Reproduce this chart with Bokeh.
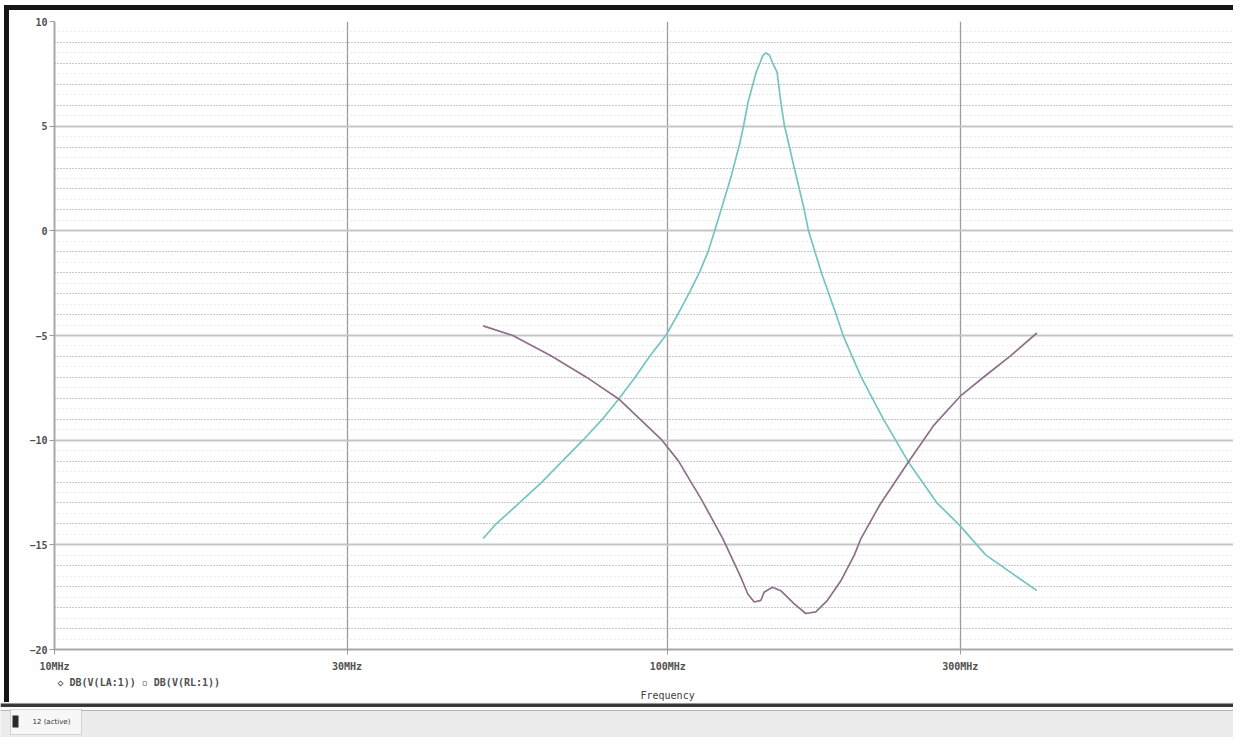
from bokeh.plotting import figure
from bokeh.models import FixedTicker, Grid, Title, Div, Label, Range1d, BoxAnnotation
from bokeh.layouts import column, row
from bokeh.embed import file_html
from bokeh.resources import INLINE

# ---------------- data ----------------
freq_la = [50.0, 52.5, 57.0, 62.1, 67.4, 72.8, 78.2, 83.2, 88.5, 93.6, 99.3, 103.4, 108.7,
           112.8, 116.4, 119.3, 122.3, 126.9, 131.0, 133.1, 135.3, 139.4, 141.5, 143.0,
           144.6, 146.5, 148.2, 150.8, 152.9, 154.9, 160.7, 166.9, 169.7, 178.1, 188.0,
           193.5, 206.6, 213.9, 224.9, 246.9, 274.5, 299.4, 330.0, 400.0]
db_la = [-14.7, -14.0, -13.06, -12.05, -10.99, -9.99, -9.01, -8.03, -6.99, -5.97, -5.0, -4.1, -2.9,
         -1.95, -0.99, 0.0, 1.04, 2.59, 4.15, 5.08, 6.18, 7.58, 8.04, 8.38,
         8.5, 8.4, 8.04, 7.58, 6.18, 5.08, 3.06, 1.04, 0.0, -2.0, -3.95,
         -5.04, -6.95, -7.8, -9.01, -11.04, -12.98, -14.07, -15.48, -17.19]

freq_rl = [50.0, 55.9, 64.5, 73.7, 83.2, 90.2, 97.8, 104.1, 109.4, 113.5, 123.0, 131.7, 135.1,
           138.4, 141.9, 143.6, 148.2, 152.9, 160.7, 167.9, 174.4, 182.2, 191.6, 201.6,
           206.6, 222.1, 246.9, 271.1, 300.0, 330.0, 362.3, 400.0]
db_rl = [-4.54, -5.0, -5.97, -6.99, -8.03, -9.01, -9.99, -10.99, -12.05, -12.83, -14.70, -16.57, -17.35,
         -17.73, -17.65, -17.27, -17.03, -17.19, -17.81, -18.28, -18.2, -17.65, -16.72, -15.48,
         -14.70, -13.06, -11.04, -9.32, -7.90, -6.91, -5.97, -4.88]

x_ticks = [10, 30, 100, 300]
x_tick_labels = ["10MHz", "30MHz", "100MHz", "300MHz"]
x_grid_ticks = [30, 100, 300]
y_ticks = [-20, -15, -10, -5, 0, 5, 10]
y_minor = [v for v in range(-20, 11) if v % 5 != 0]
y_half = [v + 0.5 for v in range(-20, 10)]
legend_text = "\u25c7 DB(V(LA:1))  \u25ab DB(V(RL:1))"
x_title = "Frequency"
tab_text = "12 (active)"

FONT = "DejaVu Sans Mono"
TXT = "#505050"
DARK = "#151515"

# ---------------- main plot ----------------
P_W, P_H = 1224, 692
p = figure(width=P_W, height=P_H, x_axis_type="log",
           x_range=Range1d(10, 837), y_range=Range1d(-20, 10),
           output_backend="svg", toolbar_location=None,
           min_border_left=45, min_border_right=0, min_border_top=11, min_border_bottom=53,
           background_fill_color="white", border_fill_color="white",
           outline_line_color=None)

# grids
p.xgrid.ticker = FixedTicker(ticks=x_grid_ticks)
p.xgrid.grid_line_color = "#9c9c9c"
p.xgrid.grid_line_width = 1.3

p.ygrid.ticker = FixedTicker(ticks=[t for t in y_ticks if t > -20], minor_ticks=y_minor)
p.ygrid.grid_line_color = "#c6c6c6"
p.ygrid.grid_line_width = 2
p.ygrid.minor_grid_line_color = "#909090"
p.ygrid.minor_grid_line_dash = "1 2"
p.ygrid.minor_grid_line_width = 1

half_grid = Grid(dimension=1, ticker=FixedTicker(ticks=y_half),
                 grid_line_color="#d6d6d6", grid_line_dash="1 3", grid_line_width=1)
p.add_layout(half_grid)

# axes
for ax in (p.xaxis[0], p.yaxis[0]):
    ax.axis_line_color = "#a8a8a8"
    ax.axis_line_width = 2
    ax.major_tick_line_color = "#9c9c9c"
    ax.major_tick_in = 0
    ax.major_tick_out = 5
    ax.minor_tick_line_color = None
    ax.major_label_text_font = FONT
    ax.major_label_text_font_size = "10px"
    ax.major_label_text_font_style = "bold"
    ax.major_label_text_color = TXT

p.xaxis.ticker = FixedTicker(ticks=x_ticks)
p.xaxis.major_label_overrides = {t: l for t, l in zip(x_ticks, x_tick_labels)}
p.xaxis.major_label_standoff = 6
p.yaxis.ticker = FixedTicker(ticks=y_ticks)
p.yaxis.major_label_standoff = 2

# curves
p.line(freq_la, db_la, line_color="#74c4c4", line_width=1.7)
p.line(freq_rl, db_rl, line_color="#8e6f8a", line_width=1.7)

# legend line and x title below the axis
leg = Title(text=legend_text, align="left", offset=3, text_font=FONT,
            text_font_size="10px", text_font_style="bold", text_color=TXT, standoff=0)
p.add_layout(leg, "below")
xt = Title(text=x_title, align="left", offset=586, text_font=FONT,
           text_font_size="10px", text_font_style="normal", text_color="#404040", standoff=1)
p.add_layout(xt, "below")

# ---------------- window chrome ----------------
def block(w, h, color):
    return Div(width=w, height=h, margin=0, styles={"background-color": color})

top_rows = column(block(1233, 5, "white"),
                  row(block(4, 5, "white"), block(1229, 5, DARK), spacing=0),
                  spacing=0)
mid_row = row(block(4, P_H, "white"), block(5, P_H, DARK), p, spacing=0)

t = figure(width=1233, height=35, x_range=Range1d(0, 1233), y_range=Range1d(0, 35),
           output_backend="svg", toolbar_location=None, min_border=0,
           x_axis_location=None, y_axis_location=None,
           background_fill_color="#ececec", border_fill_color="#ececec",
           outline_line_color=None)
t.grid.visible = False
t.add_layout(BoxAnnotation(bottom=34, top=35, fill_color="#ffffff", fill_alpha=1, line_color=None))
t.add_layout(BoxAnnotation(bottom=30.5, top=34, fill_color="#383838", fill_alpha=1, line_color=None))
t.add_layout(BoxAnnotation(bottom=27.5, top=30.5, fill_color="#fafafa", fill_alpha=1, line_color=None))
t.add_layout(BoxAnnotation(bottom=26.8, top=27.5, fill_color="#a0a0a0", fill_alpha=1, line_color=None))
t.add_layout(BoxAnnotation(left=10, right=81, bottom=3, top=28, fill_color="#f7f7f7", fill_alpha=1,
                           line_color="#8a8a8a", line_width=1))
t.add_layout(BoxAnnotation(left=12, right=18, bottom=10, top=22, fill_color="#2a2a2a", fill_alpha=1,
                           line_color=None))
t.add_layout(Label(x=32, y=16, text=tab_text, text_font="DejaVu Sans", text_font_size="7px",
                   text_color="#303030", text_baseline="middle"))

layout = column(top_rows, mid_row, t, spacing=0)

open("out.html", "w").write(file_html(layout, INLINE))
